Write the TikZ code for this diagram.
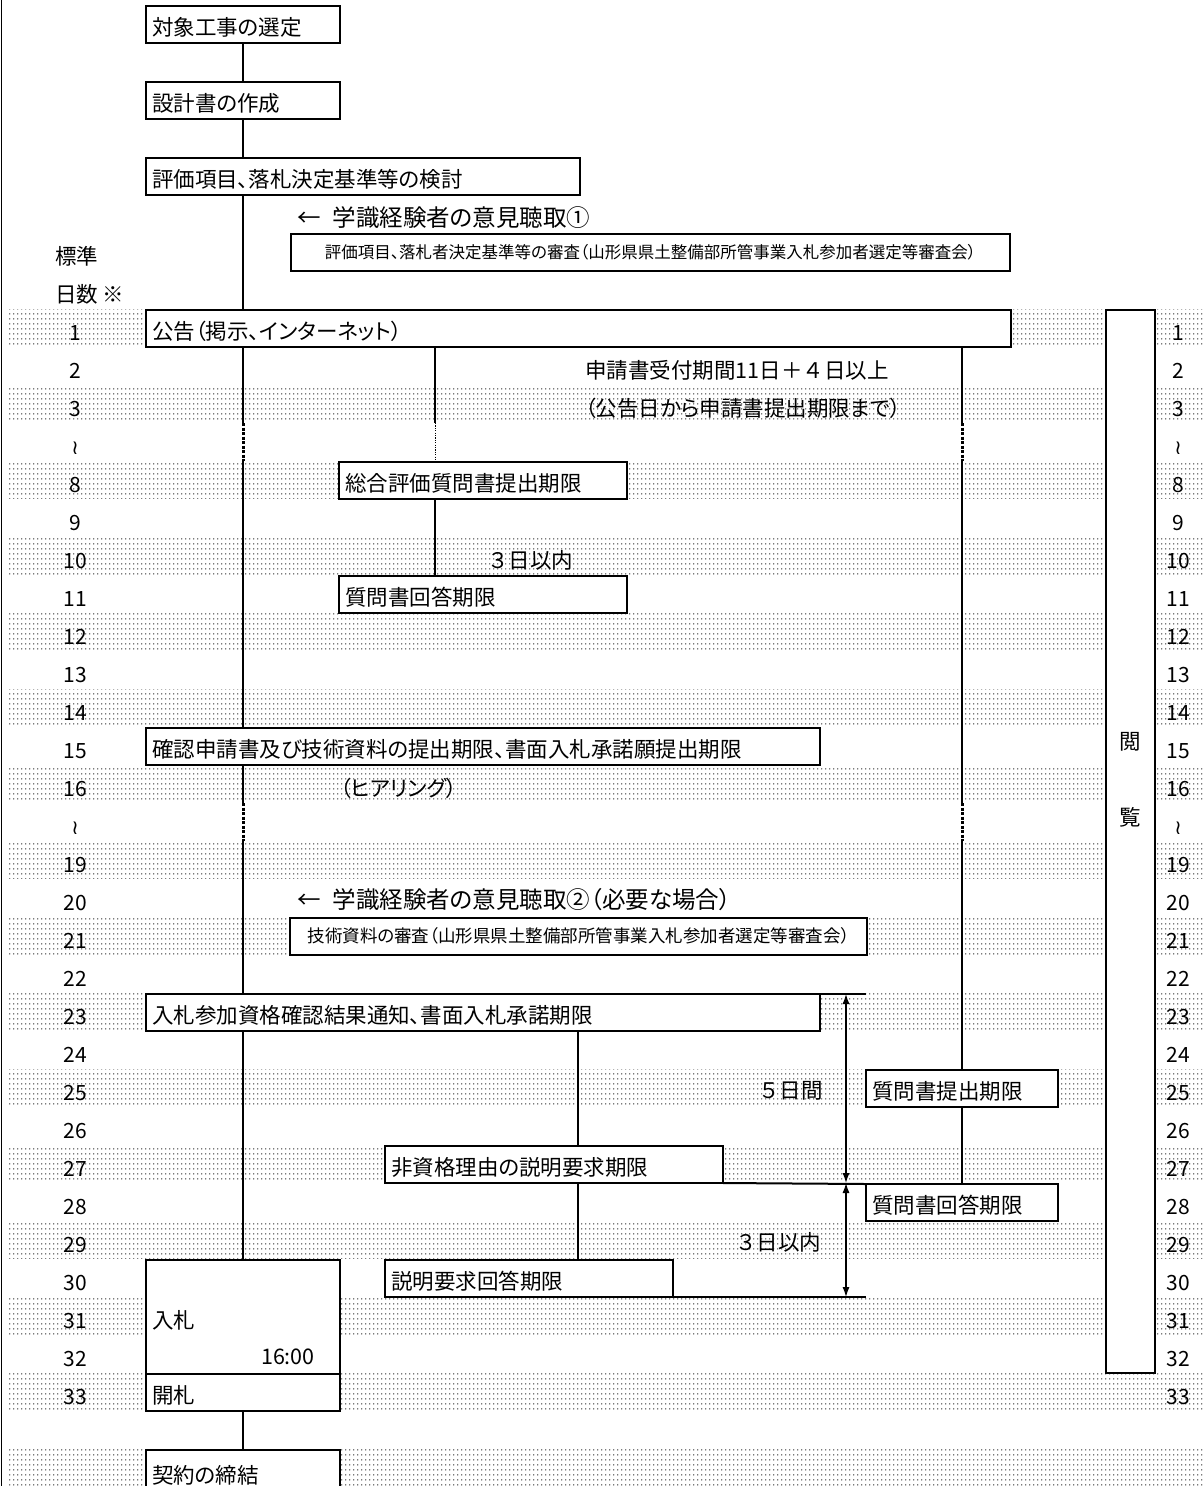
\documentclass[tikz,border=0pt]{standalone}
\usepackage{fontspec}
\newfontfamily\jp[RawFeature=+palt]{Noto Sans CJK JP}
\newfontfamily\jpm{Noto Sans CJK JP}
\newfontfamily\dv{DejaVu Sans}
\usetikzlibrary{patterns,arrows.meta}
\pgfdeclarepatternformonly{mydots}{\pgfqpoint{0pt}{0pt}}{\pgfqpoint{4.2pt}{5pt}}{\pgfqpoint{4.2pt}{5pt}}{%
  \pgfpathcircle{\pgfqpoint{2.1pt}{2.5pt}}{0.8pt}\pgfusepath{fill}}
\tikzset{
  band/.style={pattern=mydots, pattern color=black!70},
  box/.style={draw, line width=2.2pt, fill=white, anchor=north west, minimum height=37pt,
    inner xsep=6pt, inner ysep=0pt, outer sep=0pt, text height=22pt, text depth=0pt,
    align=left, font=\jp\fontsize{21.5}{25}\selectfont},
  cbox/.style={draw, line width=2.2pt, fill=white, anchor=north west, minimum height=37pt,
    inner xsep=0pt, inner ysep=0pt, outer sep=0pt, text height=12pt, text depth=0pt, align=center},
  plainbox/.style={draw, line width=2.2pt, fill=white, anchor=north west, inner sep=0pt, outer sep=0pt},
  lbl/.style={font=\jp\fontsize{21.5}{25}\selectfont, anchor=base west, inner sep=0pt},
  big/.style={font=\jp\fontsize{23.5}{27}\selectfont, anchor=base west, inner sep=0pt},
  num/.style={font=\jp\fontsize{21}{25}\selectfont, anchor=base, inner sep=0pt},
  wave/.style={font=\dv\fontsize{20}{24}\selectfont, anchor=base, inner sep=0pt},
  conn/.style={line width=2pt},
  dconn/.style={line width=3pt, dash pattern=on 3pt off 1.5pt},
  thindot/.style={line width=1pt, dash pattern=on 1.2pt off 1.2pt},
  dimarrow/.style={line width=1.2pt, {Latex[length=10pt,width=7pt]}-{Latex[length=10pt,width=7pt]}}
}
\begin{document}
\begin{tikzpicture}[x=1pt,y=-1pt]
\useasboundingbox (0,0) rectangle (1204,1486);
% dotted bands
\foreach \i in {0,2,...,30}{
  \fill[band] (8,{309+38*\i}) rectangle (1204,{346+38*\i});
}
% left frame line
\draw[line width=1.5pt] (1.5,0) -- (1.5,1486);
% header
\node[lbl] (hyojun) at (55,264) {標準};
\node[lbl] (nissu) at (55,302) {日数 ※};
% row numbers
\foreach \i/\n in {0/1,1/2,2/3,4/8,5/9,6/10,7/11,8/12,9/13,10/14,11/15,12/16,14/19,15/20,16/21,17/22,18/23,19/24,20/25,21/26,22/27,23/28,24/29,25/30,26/31,27/32,28/33}{
  \node[num] (L\n) at (75,{309+38*\i+31}) {\n};
  \node[num] (R\n) at (1178,{309+38*\i+31}) {\n};
}
\node[wave] (Lw1) at (75,454) {≀};
\node[wave] (Rw1) at (1178,454) {≀};
\node[wave] (Lw2) at (75,834) {≀};
\node[wave] (Rw2) at (1178,834) {≀};
% boxes
\node[box, text width=182pt] (taisho) at (146,6) {対象工事の選定};
\node[box, text width=182pt] (sekkei) at (146,82) {設計書の作成};
\node[box, text width=422pt] (hyoka) at (146,158) {評価項目、落札決定基準等の検討};
\node[big] (iken1) at (297,226) {←\hspace{12pt}学識経験者の意見聴取①};
\node[cbox, minimum width=719pt, font=\jp\fontsize{16.5}{19}\selectfont] (shinsa1) at (291,234)
  {評価項目、落札者決定基準等の審査（山形県県土整備部所管事業入札参加者選定等審査会）};
\node[box, text width=853pt] (kokoku) at (146,310) {公告（掲示、インターネット）};
\node[plainbox, minimum width=49pt, minimum height=1063pt] (etsuran) at (1106,310) {};
\node[lbl] (kikan) at (585,378) {\jpm 申請書受付期間11日＋４日以上};
\node[lbl] (kikan2) at (585,416) {（公告日から申請書提出期限まで）};
\node[box, text width=276pt] (sogo) at (339,462) {総合評価質問書提出期限};
\node[lbl] (sannichi1) at (487,568) {\jpm ３日以内};
\node[box, text width=276pt] (kaito1) at (339,576) {質問書回答期限};
\node[box, text width=662pt] (kakunin) at (146,728) {確認申請書及び技術資料の提出期限、書面入札承諾願提出期限};
\node[lbl] (hearing) at (340,796) {（ヒアリング）};
\node[big] (iken2) at (297,908) {←\hspace{12pt}学識経験者の意見聴取②（必要な場合）};
\node[cbox, minimum width=577pt, font=\jp\fontsize{17.5}{21}\selectfont] (shinsa2) at (290,918)
  {技術資料の審査（山形県県土整備部所管事業入札参加者選定等審査会）};
\node[box, text width=662pt] (sanka) at (146,994) {入札参加資格確認結果通知、書面入札承諾期限};
\node[box, text width=180pt] (shitsumon) at (866,1070) {質問書提出期限};
\node[lbl] (gonichi) at (758,1098) {\jpm ５日間};
\node[box, text width=326pt] (hishikaku) at (385,1146) {非資格理由の説明要求期限};
\node[box, text width=180pt] (kaito2) at (866,1184) {質問書回答期限};
\node[lbl] (sannichi2) at (735,1250) {\jpm ３日以内};
\node[box, text width=276pt] (setsumei) at (385,1260) {説明要求回答期限};
\node[plainbox, minimum width=194pt, minimum height=114pt] (nyusatsu) at (146,1260) {};
\node[lbl] (nyusatsuT) at (152,1328) {入札};
\node[font=\jp\fontsize{21.5}{25}\selectfont, anchor=base east, inner sep=0pt] (time) at (315,1364) {16:00};
\node[box, text width=182pt] (kaisatsu) at (146,1374) {開札};
\node[box, text width=182pt, minimum height=45pt] (keiyaku) at (146,1450) {契約の締結};
\node[num, font=\jp\fontsize{21.5}{25}\selectfont] (etsu1) at (1130,749) {閲};
\node[num, font=\jp\fontsize{21.5}{25}\selectfont] (etsu2) at (1130,825) {覧};
% coordinates
\coordinate (s1) at (243,423); \coordinate (s2) at (243,461);
\coordinate (s3) at (243,803); \coordinate (s4) at (243,841);
\coordinate (m1) at (435,423); \coordinate (m2) at (435,461);
\coordinate (r1) at (962,423); \coordinate (r2) at (962,461);
\coordinate (r3) at (962,803); \coordinate (r4) at (962,841);
\coordinate (q) at (578,0);
\coordinate (a) at (846,0);
\coordinate (e1) at (866,994);
% connectors
\draw[conn] (taisho.south) -- (sekkei.north);
\draw[conn] (sekkei.south) -- (sekkei.south |- hyoka.north);
\draw[conn] (s1 |- hyoka.south) -- (s1 |- kokoku.north);
\draw[conn] (s1 |- kokoku.south) -- (s1);
\draw[dconn] (s1) -- (s2);
\draw[conn] (s2) -- (s2 |- kakunin.north);
\draw[conn] (s2 |- kakunin.south) -- (s3);
\draw[dconn] (s3) -- (s4);
\draw[conn] (s4) -- (s4 |- sanka.north);
\draw[conn] (s4 |- sanka.south) -- (s4 |- nyusatsu.north);
\draw[conn] (kaisatsu.south) -- (keiyaku.north);
\draw[conn] (m1 |- kokoku.south) -- (m1);
\draw[thindot] (m1) -- (m2);
\draw[conn] (m2) -- (m2 |- sogo.north);
\draw[conn] (m2 |- sogo.south) -- (m2 |- kaito1.north);
\draw[conn] (r1 |- kokoku.south) -- (r1);
\draw[dconn] (r1) -- (r2);
\draw[conn] (r2) -- (r3);
\draw[dconn] (r3) -- (r4);
\draw[conn] (r4) -- (shitsumon.north);
\draw[conn] (shitsumon.south) -- (kaito2.north);
\draw[conn] (q |- sanka.south) -- (q |- hishikaku.north);
\draw[conn] (q |- hishikaku.south) -- (q |- setsumei.north);
\draw[conn] (sanka.north east) -- (e1);
\draw[conn] (hishikaku.south east) -- (kaito2.north west);
\draw[conn] (setsumei.south east) -- (setsumei.south east -| e1);
\draw[dimarrow] (a |- sanka.north) -- (a |- hishikaku.south);
\draw[dimarrow] (a |- hishikaku.south) -- (a |- setsumei.south);
\end{tikzpicture}
\end{document}
